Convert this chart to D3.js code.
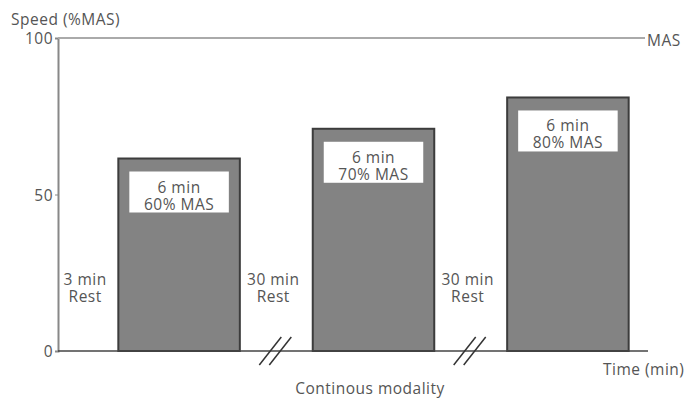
<!DOCTYPE html>
<meta charset="utf-8">
<script src="https://cdn.jsdelivr.net/npm/d3@7"></script>
<style>
  body { margin: 0; background: #fff; }
  svg { font-family: "Open Sans", "Noto Sans", sans-serif; }
  .lbl { fill: #555; font-size: 15.5px; letter-spacing: 0.5px; }
  .axis text { fill: #555; font-size: 15.5px; letter-spacing: 0.5px; font-family: "Open Sans", "Noto Sans", sans-serif; }
</style>
<body>
<div id="viz"></div>
<script>
// bouts of exercise
const bouts = ["b1", "b2", "b3"];
const speeds = [61.5, 71, 81];
const boutTop = ["6 min", "6 min", "6 min"];
const boutBottom = ["60% MAS", "70% MAS", "80% MAS"];
const restTop = ["3 min", "30 min", "30 min"];
const restBottom = ["Rest", "Rest", "Rest"];
const yTicks = [0, 50, 100];

const width = 689, height = 400;

const svg = d3.select("#viz").append("svg")
  .attr("width", width)
  .attr("height", height);

const x = d3.scaleBand()
  .domain(bouts)
  .range([60, 687])
  .paddingInner(0.375)
  .paddingOuter(0.3);

const y = d3.scaleLinear()
  .domain([0, 100])
  .range([351, 38]);

const x0 = 58, xEnd = 648;

// y axis
const yAxis = svg.append("g")
  .attr("class", "axis")
  .attr("transform", `translate(${x0},0)`)
  .call(d3.axisLeft(y).tickValues(yTicks).tickSize(3).tickPadding(2));
yAxis.select(".domain").attr("stroke", "#888").attr("stroke-width", 2);
yAxis.selectAll(".tick line").attr("stroke", "#888");
yAxis.selectAll(".tick text").attr("dy", "0.36em");

// MAS reference line
svg.append("line")
  .attr("x1", x0).attr("x2", 645)
  .attr("y1", y(100)).attr("y2", y(100))
  .attr("stroke", "#aaa").attr("stroke-width", 2);
svg.append("text").attr("class", "lbl")
  .attr("x", 647).attr("y", y(100) + 8)
  .text("MAS");

svg.append("text").attr("class", "lbl")
  .attr("x", 11).attr("y", 25)
  .text("Speed (%MAS)");

// bars
const bars = svg.selectAll("g.bar")
  .data(bouts)
  .enter().append("g")
  .attr("class", "bar");

bars.append("rect")
  .attr("x", d => x(d))
  .attr("y", (d, i) => y(speeds[i]))
  .attr("width", x.bandwidth())
  .attr("height", (d, i) => y(0) - y(speeds[i]))
  .attr("fill", "#838383")
  .attr("stroke", "#3c3c3c")
  .attr("stroke-width", 2);

bars.append("rect")
  .attr("x", d => x(d) + 11)
  .attr("y", (d, i) => y(speeds[i]) + 13)
  .attr("width", x.bandwidth() - 22)
  .attr("height", 41)
  .attr("fill", "#fff");

bars.append("text")
  .attr("class", "lbl")
  .attr("text-anchor", "middle")
  .attr("x", d => x(d) + x.bandwidth() / 2)
  .attr("y", (d, i) => y(speeds[i]) + 34)
  .text((d, i) => boutTop[i]);

bars.append("text")
  .attr("class", "lbl")
  .attr("text-anchor", "middle")
  .attr("x", d => x(d) + x.bandwidth() / 2)
  .attr("y", (d, i) => y(speeds[i]) + 51)
  .text((d, i) => boutBottom[i]);

// x axis baseline
svg.append("line")
  .attr("x1", x0).attr("x2", xEnd)
  .attr("y1", y(0)).attr("y2", y(0))
  .attr("stroke", "#444").attr("stroke-width", 1.5);

svg.append("text").attr("class", "lbl")
  .attr("x", 603).attr("y", 375)
  .text("Time (min)");

svg.append("text").attr("class", "lbl")
  .attr("x", 370).attr("y", 394)
  .attr("text-anchor", "middle")
  .text("Continous modality");

// rest labels in the gaps (first gap starts at the axis)
bouts.forEach((d, i) => {
  const left = i === 0 ? x0 : x(bouts[i - 1]) + x.bandwidth();
  const mid = (left + x(d)) / 2;
  const cx = mid - 3;
  svg.append("text").attr("class", "lbl").attr("text-anchor", "middle")
    .attr("x", cx).attr("y", 285).text(restTop[i]);
  svg.append("text").attr("class", "lbl").attr("text-anchor", "middle")
    .attr("x", cx).attr("y", 302).text(restBottom[i]);
  if (i > 0) {
    // axis break marks
    [-5, 5].forEach(o => {
      svg.append("line")
        .attr("x1", mid + o - 12).attr("y1", 365)
        .attr("x2", mid + o + 10).attr("y2", 337)
        .attr("stroke", "#333").attr("stroke-width", 1.5);
    });
  }
});
</script>
</body>
